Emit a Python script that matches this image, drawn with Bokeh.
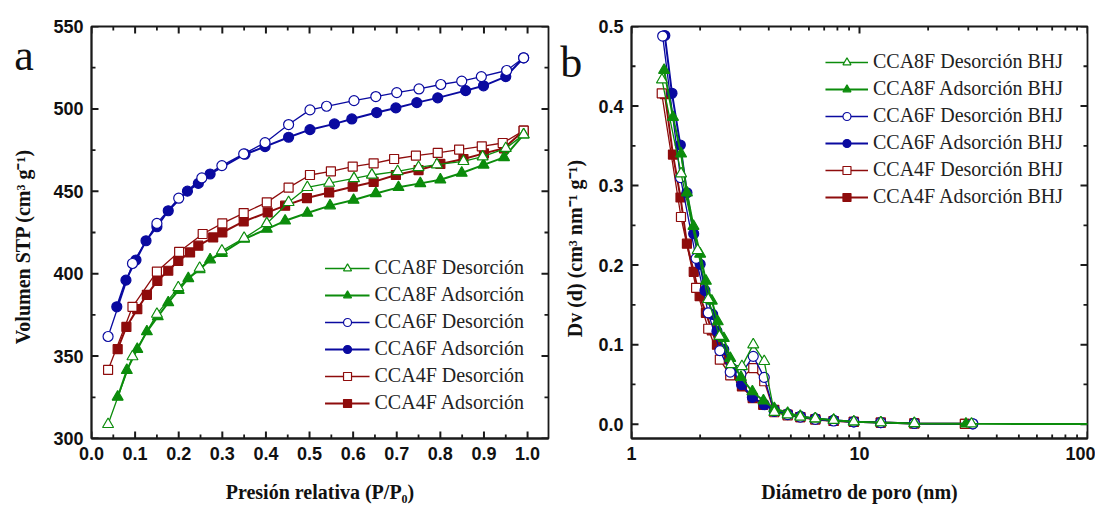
import math
from bokeh.plotting import figure
from bokeh.layouts import row
from bokeh.models import (Range1d, FixedTicker, NumeralTickFormatter, Legend, LegendItem)
from bokeh.core.properties import value
from bokeh.embed import file_html
from bokeh.resources import INLINE

# ---------------- data: panel a (isotherms) ----------------
p_8f_des = [0.038,0.094,0.150,0.199,0.248,0.299,0.350,0.402,0.452,0.495,0.545,0.602,0.643,0.702,0.750,0.792,0.853,0.897,0.950,0.991]
v_8f_des = [308.6,349.7,375.5,391.6,403.4,413.9,421.6,430.5,443.3,452.4,455.0,457.8,459.9,462.1,464.5,466.2,468.2,471.0,476.1,484.4]
p_8f_ads = [0.060,0.081,0.105,0.127,0.152,0.176,0.200,0.222,0.248,0.272,0.299,0.350,0.402,0.444,0.495,0.547,0.601,0.652,0.704,0.754,0.800,0.849,0.899,0.946,0.991]
v_8f_ads = [325.2,341.4,354.2,364.9,374.0,382.5,390.0,397.1,402.5,408.5,412.5,421.0,427.1,432.1,436.8,441.3,444.7,448.7,452.4,454.8,457.0,461.1,466.0,470.6,484.4]
p_6f_des = [0.038,0.094,0.150,0.200,0.253,0.299,0.349,0.398,0.452,0.501,0.539,0.602,0.652,0.700,0.751,0.801,0.849,0.894,0.952,0.991]
v_6f_des = [361.9,406.2,430.5,445.8,458.1,465.6,472.7,479.5,490.5,499.4,501.6,505.0,507.5,509.9,512.1,514.8,516.8,519.6,523.3,531.0]
p_6f_ads = [0.058,0.079,0.102,0.125,0.150,0.176,0.220,0.245,0.272,0.352,0.398,0.452,0.501,0.557,0.597,0.654,0.698,0.746,0.794,0.858,0.899,0.950,0.991]
v_6f_ads = [379.9,396.1,408.3,420.0,428.5,438.2,450.1,454.8,460.5,472.5,477.1,482.8,487.4,490.9,493.9,497.8,500.6,503.8,506.7,511.1,514.0,519.6,531.0]
p_4f_des = [0.038,0.094,0.150,0.201,0.255,0.300,0.349,0.402,0.452,0.501,0.549,0.599,0.647,0.694,0.744,0.794,0.843,0.895,0.943,0.991]
v_4f_des = [341.6,379.9,401.3,413.3,424.1,430.5,436.8,443.3,452.2,459.9,462.1,465.0,467.0,469.6,471.6,473.3,475.3,477.3,479.3,486.8]
p_4f_ads = [0.060,0.080,0.105,0.127,0.151,0.176,0.199,0.226,0.245,0.279,0.300,0.349,0.404,0.444,0.494,0.545,0.599,0.647,0.698,0.750,0.800,0.853,0.900,0.946,0.991]
v_4f_ads = [354.2,367.7,378.5,387.2,395.7,401.8,407.8,412.9,417.0,422.0,425.0,431.7,437.2,441.3,445.9,449.3,452.8,455.7,459.9,462.9,466.6,469.6,473.0,476.1,486.8]

# ---------------- data: panel b (BJH pore size distribution) ----------------
d_8f_des = [1.36,1.65,1.95,2.17,2.43,2.73,3.05,3.42,3.82,4.23,4.84,5.5,6.4,7.7,9.44,12.4,17.4,31.0]
v_8f_des_b = [0.433,0.315,0.2186,0.157,0.1105,0.075,0.0727,0.100,0.079,0.015,0.012,0.009,0.007,0.005,0.003,0.002,0.001,0.0005]
d_8f_ads = [1.39,1.52,1.65,1.75,1.87,2.0,2.12,2.25,2.39,2.54,2.71,3.02,3.39,3.79,4.23,4.84,5.5,6.4,7.7,9.44,12.4,17.4,29.3,200.0]
v_8f_ads_b = [0.445,0.386,0.340,0.291,0.249,0.214,0.180,0.155,0.129,0.108,0.083,0.059,0.041,0.0295,0.020,0.014,0.010,0.007,0.005,0.003,0.002,0.001,0.0005,0.0]
d_6f_des = [1.37,1.64,1.92,2.17,2.44,2.71,3.02,3.42,3.82,4.23,4.84,5.5,6.4,7.7,9.44,12.4,17.4,31.4]
v_6f_des_b = [0.488,0.310,0.2085,0.140,0.0925,0.0655,0.063,0.0853,0.0589,0.016,0.012,0.009,0.006,0.004,0.003,0.002,0.001,0.0005]
d_6f_ads = [1.40,1.505,1.637,1.75,1.874,2.0,2.10,2.27,2.37,2.54,2.75,3.04,3.39,3.82,4.23,4.84,5.5,6.4,7.7,9.44,12.4,17.4,31.4]
v_6f_ads_b = [0.4887,0.416,0.351,0.291,0.2395,0.201,0.168,0.138,0.117,0.094,0.0706,0.0497,0.0337,0.0245,0.018,0.013,0.010,0.007,0.005,0.003,0.002,0.001,0.0005]
d_4f_des = [1.357,1.648,1.92,2.17,2.44,2.71,3.02,3.42,3.82,4.23,4.84,5.5,6.4,7.7,9.44,12.4,17.4,29.0]
v_4f_des_b = [0.416,0.2605,0.1714,0.120,0.0811,0.0614,0.058,0.0706,0.054,0.015,0.011,0.009,0.006,0.004,0.003,0.002,0.001,0.0005]
d_4f_ads = [1.40,1.52,1.64,1.75,1.875,1.99,2.12,2.25,2.37,2.54,2.75,3.05,3.40,3.78,4.23,4.84,5.5,6.4,7.7,9.44,12.4,17.4,29.0]
v_4f_ads_b = [0.415,0.339,0.285,0.227,0.1915,0.161,0.140,0.118,0.100,0.082,0.062,0.0475,0.0328,0.0243,0.018,0.012,0.009,0.006,0.004,0.003,0.002,0.001,0.0005]

# ---------------- ticks and texts ----------------
xa_major = [0.0, 0.1, 0.2, 0.3, 0.4, 0.5, 0.6, 0.7, 0.8, 0.9, 1.0]
xa_minor = [0.05, 0.15, 0.25, 0.35, 0.45, 0.55, 0.65, 0.75, 0.85, 0.95]
ya_major = [300, 350, 400, 450, 500, 550]
ya_minor = [325, 375, 425, 475, 525]
xb_major = [1, 10, 100]
xb_minor = [2, 3, 4, 5, 6, 7, 8, 9, 20, 30, 40, 50, 60, 70, 80, 90]
yb_major = [0.0, 0.1, 0.2, 0.3, 0.4, 0.5]
yb_minor = [0.05, 0.15, 0.25, 0.35, 0.45]

labels_a = ["CCA8F Desorción", "CCA8F Adsorción", "CCA6F Desorción",
            "CCA6F Adsorción", "CCA4F Desorción", "CCA4F Adsorción"]
labels_b = [s + " BHJ" for s in labels_a]
xtitle_a = "Presión relativa (P/P₀)"
ytitle_a = "Volumen STP (cm³ g⁻¹)"
xtitle_b = "Diámetro de poro (nm)"
ytitle_b = "Dv (d) (cm³ nm⁻¹ g⁻¹)"
panel_a = "a"
panel_b = "b"

GREEN = "#0c8c0c"
BLUE = "#0a0aa0"
RED = "#8e0c0c"
AX = "#1a1a1a"
TICK_FONT = "Liberation Sans"
SERIF = "Liberation Serif"
H = 508
TOP, BOTTOM = 26, 70


def style_axis(ax):
    ax.axis_line_color = AX
    ax.axis_line_width = 1.8
    ax.major_tick_line_color = None
    ax.minor_tick_line_color = None
    ax.major_tick_in = 0
    ax.major_tick_out = 0
    ax.minor_tick_in = 0
    ax.minor_tick_out = 0
    ax.major_label_text_font = TICK_FONT
    ax.major_label_text_font_style = "bold"
    ax.major_label_text_color = "#111111"
    ax.major_label_text_font_size = "18px"
    ax.major_label_standoff = 8
    ax.axis_label_text_font = SERIF
    ax.axis_label_text_font_style = "bold"
    ax.axis_label_text_font_size = "20px"
    ax.axis_label_text_color = "#111111"


def add_series(p, x, y, marker, color, filled, size, lw):
    r1 = p.line(x, y, line_color=color, line_width=lw)
    r2 = p.scatter(x, y, marker=marker, size=size, line_color=color,
                   fill_color=color if filled else "white", line_width=1.2)
    return [r1, r2]


def inner_ticks(p, xr, yr, fw, fh, logx, xmaj, xmin, ymaj, ymin):
    """Inward tick marks on all four frame edges (lengths in pixels)."""
    dy = (yr.end - yr.start) / fh
    if logx:
        kx = 10 ** ((math.log10(xr.end) - math.log10(xr.start)) / fw)
    else:
        dx = (xr.end - xr.start) / fw
    for xs, ln, lw in ((xmaj, 7, 2.0), (xmin, 4, 1.8)):
        n = len(xs)
        p.segment(xs, [yr.start] * n, xs, [yr.start + ln * dy] * n, line_color=AX, line_width=lw)
        p.segment(xs, [yr.end] * n, xs, [yr.end - ln * dy] * n, line_color=AX, line_width=lw)
    for ys, ln, lw in ((ymaj, 7, 2.0), (ymin, 4, 1.8)):
        n = len(ys)
        if logx:
            xl, xr_ = xr.start * kx ** ln, xr.end / kx ** ln
        else:
            xl, xr_ = xr.start + ln * dx, xr.end - ln * dx
        p.segment([xr.start] * n, ys, [xl] * n, ys, line_color=AX, line_width=lw)
        p.segment([xr.end] * n, ys, [xr_] * n, ys, line_color=AX, line_width=lw)


def side_panel(width, letter, letter_x, letter_base, title, title_x, title_y):
    # the strip's frame spans canvas rows TOP..H-BOTTOM; data y = H - canvas y
    s = figure(width=width, height=H, output_backend="svg", toolbar_location=None,
               title_location=None,
               x_range=Range1d(0, width), y_range=Range1d(BOTTOM, H - TOP),
               x_axis_location=None, y_axis_location=None,
               min_border_left=0, min_border_right=0,
               min_border_top=TOP, min_border_bottom=BOTTOM)
    s.xgrid.visible = False
    s.ygrid.visible = False
    s.outline_line_color = None
    s.text(x=[letter_x], y=[H - letter_base], text=[letter], text_font=value(SERIF),
           text_font_size="44px", text_align="center", text_baseline="alphabetic",
           text_color="#111111")
    s.text(x=[title_x], y=[H - title_y], text=[title], text_font=value(SERIF),
           text_font_size="20px", text_font_style="bold", text_align="center",
           text_baseline="middle", angle=math.pi / 2, text_color="#111111")
    return s


# ---------------- panel a ----------------
WA, LA, RA = 515, 51, 7
xr_a = Range1d(0, 1.048)
yr_a = Range1d(300, 550)
pa = figure(width=WA, height=H, output_backend="svg", toolbar_location=None,
            x_range=xr_a, y_range=yr_a,
            min_border_left=LA, min_border_right=RA, min_border_top=TOP, min_border_bottom=BOTTOM)
pa.xgrid.visible = False
pa.ygrid.visible = False
pa.outline_line_color = AX
pa.outline_line_width = 1.8

pa.xaxis.ticker = FixedTicker(ticks=xa_major)
pa.yaxis.ticker = FixedTicker(ticks=ya_major)
pa.xaxis.formatter = NumeralTickFormatter(format="0.0")
pa.yaxis.formatter = NumeralTickFormatter(format="0")
pa.xaxis.axis_label = xtitle_a
pa.xaxis.axis_label_standoff = 18
for ax in pa.xaxis + pa.yaxis:
    style_axis(ax)

inner_ticks(pa, xr_a, yr_a, WA - LA - RA, H - TOP - BOTTOM, False,
            xa_major, xa_minor, ya_major, ya_minor)
r4a = add_series(pa, p_4f_ads, v_4f_ads, "square", RED, True, 9, 2.0)
r4d = add_series(pa, p_4f_des, v_4f_des, "square", RED, False, 9, 1.3)
r6a = add_series(pa, p_6f_ads, v_6f_ads, "circle", BLUE, True, 10, 2.0)
r6d = add_series(pa, p_6f_des, v_6f_des, "circle", BLUE, False, 10, 1.3)
r8a = add_series(pa, p_8f_ads, v_8f_ads, "triangle", GREEN, True, 11, 2.0)
r8d = add_series(pa, p_8f_des, v_8f_des, "triangle", GREEN, False, 11, 1.3)

leg_a = Legend(items=[LegendItem(label=l, renderers=r) for l, r in
                      zip(labels_a, [r8d, r8a, r6d, r6a, r4d, r4a])],
               location="bottom_right", margin=24, padding=8, spacing=4,
               glyph_width=45, glyph_height=20, label_standoff=5,
               label_text_font=SERIF, label_text_font_size="20px",
               label_text_color="#222222",
               background_fill_alpha=0, border_line_color=None)
pa.add_layout(leg_a)

# ---------------- panel b ----------------
WB, LB, RB = 503, 39, 8
xr_b = Range1d(1, 100)
yr_b = Range1d(-0.018, 0.5)
pb = figure(width=WB, height=H, output_backend="svg", toolbar_location=None,
            x_axis_type="log", x_range=xr_b, y_range=yr_b,
            min_border_left=LB, min_border_right=RB, min_border_top=TOP, min_border_bottom=BOTTOM)
pb.xgrid.visible = False
pb.ygrid.visible = False
pb.outline_line_color = AX
pb.outline_line_width = 1.8

pb.xaxis.ticker = FixedTicker(ticks=xb_major)
pb.yaxis.ticker = FixedTicker(ticks=yb_major)
pb.xaxis.formatter = NumeralTickFormatter(format="0")
pb.yaxis.formatter = NumeralTickFormatter(format="0.0")
pb.xaxis.axis_label = xtitle_b
pb.xaxis.axis_label_standoff = 18
for ax in pb.xaxis + pb.yaxis:
    style_axis(ax)

inner_ticks(pb, xr_b, yr_b, WB - LB - RB, H - TOP - BOTTOM, True,
            xb_major, xb_minor, yb_major, yb_minor)
s4a = add_series(pb, d_4f_ads, v_4f_ads_b, "square", RED, True, 9, 2.0)
s4d = add_series(pb, d_4f_des, v_4f_des_b, "square", RED, False, 9, 1.3)
s6a = add_series(pb, d_6f_ads, v_6f_ads_b, "circle", BLUE, True, 10, 2.0)
s6d = add_series(pb, d_6f_des, v_6f_des_b, "circle", BLUE, False, 10, 1.3)
s8a = add_series(pb, d_8f_ads, v_8f_ads_b, "triangle", GREEN, True, 11, 2.0)
s8d = add_series(pb, d_8f_des, v_8f_des_b, "triangle", GREEN, False, 11, 1.3)

leg_b = Legend(items=[LegendItem(label=l, renderers=r) for l, r in
                      zip(labels_b, [s8d, s8a, s6d, s6a, s4d, s4a])],
               location="top_right", margin=24, padding=6, spacing=4,
               glyph_width=43, glyph_height=20, label_standoff=5,
               label_text_font=SERIF, label_text_font_size="20px",
               label_text_color="#222222",
               background_fill_alpha=0, border_line_color=None)
pb.add_layout(leg_b)

# ---------------- side strips with panel letters and y titles ----------------
sa = side_panel(40, panel_a, 23.5, 55, ytitle_a, 22, 246)
sb = side_panel(37, panel_b, 15.7, 62, ytitle_b, 19, 248)

layout = row(sa, pa, sb, pb)
open("out.html", "w").write(file_html(layout, INLINE))
